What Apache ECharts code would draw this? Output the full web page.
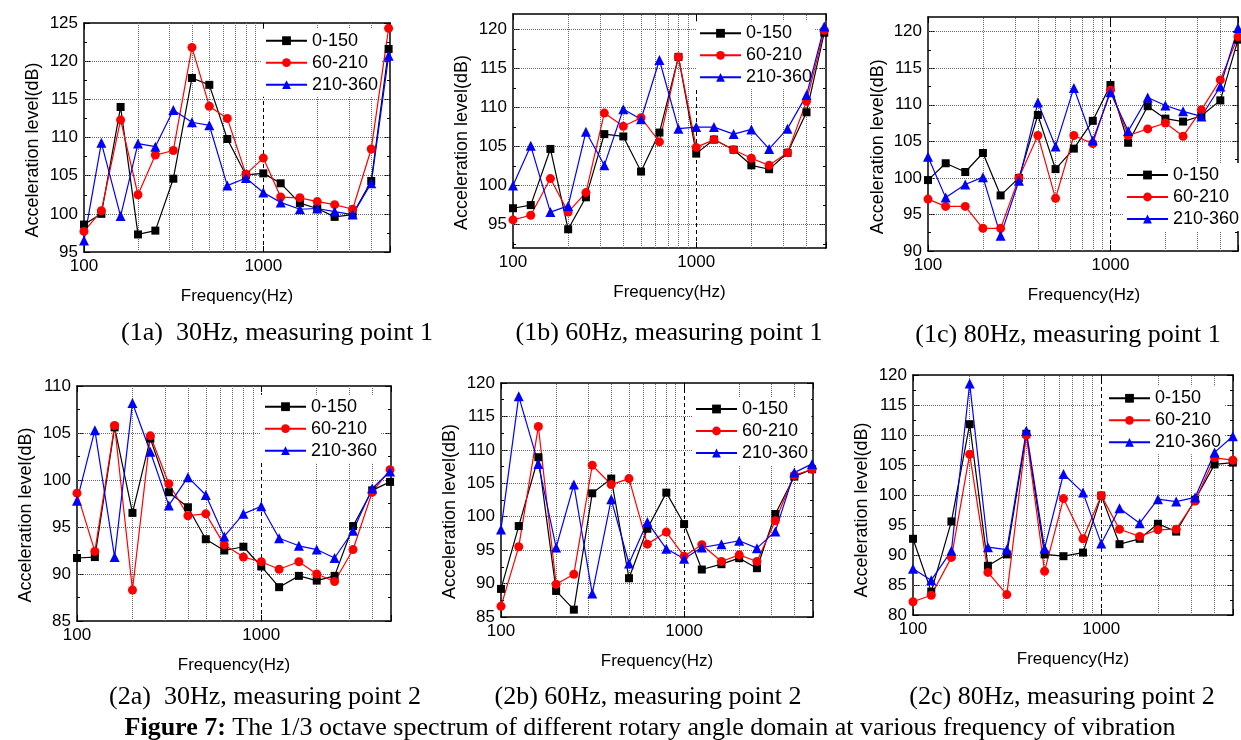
<!DOCTYPE html>
<html><head><meta charset="utf-8">
<script src="https://cdn.jsdelivr.net/npm/echarts@6/dist/echarts.min.js"></script>
<style>html,body{margin:0;padding:0;background:#fff}#c{width:1241px;height:740px}</style>
</head><body><div id="c"></div>
<script>
// ---------- DATA ----------
const freqs = [100,125,160,200,250,315,400,500,630,800,1000,1250,1600,2000,2500,3150,4000,5000];
const seriesNames = ['0-150','60-210','210-360'];
const xTickLabels = [100, 1000];
const xMinorGrid = [200,300,400,500,600,700,800,900,2000,3000,4000];
const xDashedGrid = [1000];

// (1a) 30Hz, measuring point 1
const y1aTicks = [95,100,105,110,115,120,125];
const d1a_k = [98.6,100.0,114.0,97.3,97.8,104.6,117.8,116.9,109.8,105.1,105.3,104.0,101.4,100.7,99.6,99.9,104.3,121.6];
const d1a_r = [97.7,100.4,112.3,102.5,107.7,108.3,121.8,114.1,112.5,105.2,107.3,102.2,102.1,101.6,101.2,100.6,108.5,124.3];
const d1a_b = [96.5,109.3,99.7,109.2,108.8,113.6,112.0,111.6,103.7,104.7,102.8,101.5,100.6,100.7,100.3,99.9,104.0,120.7];

// (1b) 60Hz, measuring point 1
const y1bTicks = [95,100,105,110,115,120];
const d1b_k = [97.1,97.5,104.7,94.4,98.5,106.6,106.3,101.8,106.8,116.5,104.1,105.9,104.6,102.6,102.1,104.2,109.4,119.6];
const d1b_r = [95.6,96.2,100.9,96.6,99.1,109.3,107.6,108.7,105.6,116.5,104.9,105.9,104.6,103.5,102.6,104.2,110.8,119.9];
const d1b_b = [100.0,105.1,96.6,97.4,106.9,102.6,109.8,108.5,116.1,107.3,107.5,107.5,106.6,107.2,104.7,107.3,111.6,120.4];

// (1c) 80Hz, measuring point 1
const y1cTicks = [90,95,100,105,110,115,120];
const d1c_k = [99.7,102.0,100.8,103.4,97.6,100.0,108.6,101.2,104.0,107.8,112.7,104.8,109.8,108.1,107.7,108.5,110.6,118.9];
const d1c_r = [97.1,96.1,96.1,93.1,93.1,100.0,105.8,97.2,105.8,104.7,112.0,105.8,106.7,107.5,105.7,109.3,113.4,119.3];
const d1c_b = [102.9,97.3,99.1,100.1,92.1,99.6,110.3,104.3,112.3,105.1,111.7,106.4,111.0,109.9,109.1,108.4,112.5,120.5];

// (2a) 30Hz, measuring point 2
const y2aTicks = [85,90,95,100,105,110];
const d2a_k = [91.7,91.8,105.6,96.5,104.4,98.7,97.1,93.7,92.5,92.9,90.8,88.6,89.8,89.3,89.8,95.1,98.9,99.8];
const d2a_r = [98.6,92.4,105.8,88.3,104.7,99.6,96.2,96.4,93.1,91.8,91.3,90.5,91.3,90.0,89.2,92.6,98.7,101.1];
const d2a_b = [97.8,105.3,91.8,108.2,103.0,97.3,100.3,98.4,94.0,96.4,97.2,93.8,93.0,92.6,91.7,94.6,99.1,100.9];

// (2b) 60Hz, measuring point 2
const y2bTicks = [85,90,95,100,105,110,115,120];
const d2b_k = [89.2,98.6,108.9,88.9,86.1,103.5,105.7,90.8,98.2,103.6,98.9,92.1,92.9,93.8,92.3,100.4,106.0,107.1];
const d2b_r = [86.6,95.5,113.5,89.9,91.4,107.7,104.8,105.7,95.9,97.7,94.1,95.8,93.3,94.3,93.3,99.4,106.2,107.1];
const d2b_b = [98.1,118.0,107.9,95.4,104.8,88.5,102.6,93.0,99.2,95.2,93.7,95.4,95.9,96.4,95.3,97.8,106.6,107.9];

// (2c) 80Hz, measuring point 2
const y2cTicks = [80,85,90,95,100,105,110,115,120];
const d2c_k = [92.7,83.9,95.6,111.8,88.2,90.1,110.2,90.1,89.8,90.4,99.9,91.8,92.7,95.2,93.9,99.2,105.1,105.4];
const d2c_r = [82.2,83.3,89.6,106.8,87.1,83.4,110.0,87.3,99.4,92.7,99.9,94.3,93.1,94.2,94.3,99.0,106.2,105.8];
const d2c_b = [87.7,85.8,90.7,118.6,91.3,90.9,110.7,91.1,103.5,100.4,91.9,97.8,95.3,99.3,98.9,99.6,107.1,109.8];

const yName = 'Acceleration level(dB)';
const xName = 'Frequency(Hz)';
const figCaptionBold = 'Figure 7:';
const figCaptionText = ' The 1/3 octave spectrum of different rotary angle domain at various frequency of vibration';

// ---------- LAYOUT ----------
const panels = [
  {ticks:y1aTicks, yMin:95, yMax:125, data:[d1a_k,d1a_r,d1a_b], caption:'(1a)  30Hz, measuring point 1',
   grid:{left:84,top:23,width:306,height:229}, xMax:5090, legend:[262,28.7], yNamePos:[33,150], capPos:[277,333]},
  {ticks:y1bTicks, yMin:92, yMax:122, data:[d1b_k,d1b_r,d1b_b], caption:'(1b) 60Hz, measuring point 1',
   grid:{left:513,top:14,width:313,height:234}, xMax:5110, legend:[696,21.3], yNamePos:[462,142.5], capPos:[669,333]},
  {ticks:y1cTicks, yMin:90, yMax:122, data:[d1c_k,d1c_r,d1c_b], caption:'(1c) 80Hz, measuring point 1',
   grid:{left:928,top:17,width:312,height:234}, xMax:5000, legend:[1123,163], yNamePos:[878,146.7], capPos:[1068,335]},
  {ticks:y2aTicks, yMin:85, yMax:110, data:[d2a_k,d2a_r,d2a_b], caption:'(2a)  30Hz, measuring point 2',
   grid:{left:77,top:386,width:314,height:235}, xMax:5060, legend:[261,394.7], yNamePos:[26,515], capPos:[265,697]},
  {ticks:y2bTicks, yMin:85, yMax:120, data:[d2b_k,d2b_r,d2b_b], caption:'(2b) 60Hz, measuring point 2',
   grid:{left:501,top:383,width:312,height:234}, xMax:5060, legend:[692,397], yNamePos:[450,511.5], capPos:[648,697]},
  {ticks:y2cTicks, yMin:80, yMax:120, data:[d2c_k,d2c_r,d2c_b], caption:'(2c) 80Hz, measuring point 2',
   grid:{left:913,top:375,width:320,height:240}, xMax:5010, legend:[1105,386.3], yNamePos:[862,510], capPos:[1062,697]}
];

const styles = [
  {color:'#000000', symbol:'rect', size:8},
  {color:'#ff0000', symbol:'circle', size:9},
  {color:'#0000ff', symbol:'triangle', size:10}
];

const SANS = 'Arial, "Liberation Sans", Helvetica, sans-serif';
const SERIF = '"Times New Roman", "Liberation Serif", serif';
const axisLineStyle = {color:'#000', width:1.5};

const grids = [], xAxes = [], yAxes = [], series = [], legends = [], graphics = [];

panels.forEach((p, i) => {
  grids.push(Object.assign({containLabel:false}, p.grid));
  const minor = [];
  for (let k = 0; k < p.ticks.length - 1; k++) minor.push((p.ticks[k] + p.ticks[k+1]) / 2);
  if (p.ticks[0] - 2.5 > p.yMin) minor.unshift(p.ticks[0] - 2.5);
  const last = p.ticks[p.ticks.length-1];
  if (last + 2.5 < p.yMax) minor.push(last + 2.5);

  const xBase = {
    type:'log', logBase:10, gridIndex:i, min:100, max:p.xMax,
    axisLine:{show:true, onZero:false, lineStyle:axisLineStyle},
    axisTick:{show:true, inside:true, length:6, lineStyle:{color:'#000', width:1}},
    splitLine:{show:false}, minorTick:{show:false}, minorSplitLine:{show:false}
  };
  xAxes.push(Object.assign({}, xBase, {position:'bottom',
    axisLabel:{show:true, color:'#000', fontSize:17, fontFamily:SANS, margin:6,
      formatter: v => xTickLabels.some(t => Math.abs(t - v) < 1e-6) ? String(Math.round(v)) : ''}}));
  xAxes.push(Object.assign({}, xBase, {position:'top', axisLabel:{show:false}}));

  const yBase = {type:'value', gridIndex:i, min:p.yMin, max:p.yMax, splitLine:{show:false}, minorTick:{show:false}};
  yAxes.push(Object.assign({}, yBase, {position:'left',
    axisLine:{show:true, onZero:false, lineStyle:axisLineStyle},
    axisTick:{show:true, inside:true, length:6, customValues:p.ticks, lineStyle:{color:'#000'}},
    axisLabel:{show:true, customValues:p.ticks, color:'#000', fontSize:17, fontFamily:SANS, margin:6}}));
  yAxes.push(Object.assign({}, yBase, {position:'right',
    axisLine:{show:true, onZero:false, lineStyle:axisLineStyle},
    axisTick:{show:true, inside:true, length:6, customValues:p.ticks, lineStyle:{color:'#000'}},
    axisLabel:{show:false}}));
  yAxes.push(Object.assign({}, yBase, {position:'left',
    axisLine:{show:false}, axisLabel:{show:false},
    axisTick:{show:true, inside:true, length:3, customValues:minor, lineStyle:{color:'#000'}}}));
  yAxes.push(Object.assign({}, yBase, {position:'right',
    axisLine:{show:false}, axisLabel:{show:false},
    axisTick:{show:true, inside:true, length:3, customValues:minor, lineStyle:{color:'#000'}}}));

  const gridLineData = [];
  xMinorGrid.forEach(v => gridLineData.push({xAxis:v, lineStyle:{color:'#666', type:'dotted', width:1}}));
  xDashedGrid.forEach(v => gridLineData.push({xAxis:v, lineStyle:{color:'#000', type:[4,3], width:1}}));
  p.ticks.forEach(v => { if (v > p.yMin && v < p.yMax)
    gridLineData.push({yAxis:v, lineStyle:{color:'#666', type:'dotted', width:1}}); });

  series.push({type:'line', name:'grid'+i, xAxisIndex:2*i, yAxisIndex:4*i, data:[], silent:true, z:1,
    markLine:{symbol:['none','none'], silent:true, animation:false, label:{show:false}, z:1, data:gridLineData}});

  seriesNames.forEach((nm, s) => {
    const st = styles[s];
    series.push({type:'line', name:nm, xAxisIndex:2*i, yAxisIndex:4*i, z:3,
      data: freqs.map((f, k) => [f, p.data[s][k]]),
      symbol:st.symbol, symbolSize:st.size, showAllSymbol:true, clip:false,
      itemStyle:{color:st.color}, lineStyle:{color:st.color, width:1.2},
      emphasis:{disabled:true}, animation:false});
  });

  legends.push({orient:'vertical', left:p.legend[0], top:p.legend[1], data:seriesNames,
    itemWidth:41, itemHeight:11, itemGap:4, padding:3, backgroundColor:'#fff', z:2,
    selectedMode:false, textStyle:{color:'#000', fontSize:18, fontFamily:SANS}});

  const g = p.grid;
  graphics.push({type:'text', x:p.yNamePos[0], y:p.yNamePos[1], rotation:Math.PI/2, silent:true,
    style:{text:yName, font:'18px ' + SANS, fill:'#000', textAlign:'center', textVerticalAlign:'middle'}});
  graphics.push({type:'text', x:g.left + g.width/2, y:g.top + g.height + 44.5, silent:true,
    style:{text:xName, font:'17px ' + SANS, fill:'#000', textAlign:'center', textVerticalAlign:'middle'}});
  graphics.push({type:'text', x:p.capPos[0], y:p.capPos[1], silent:true,
    style:{text:p.caption, font:'26px ' + SERIF, fill:'#000', textAlign:'center', textVerticalAlign:'middle'}});
});

graphics.push({type:'text', x:650, y:728, silent:true,
  style:{text:'{b|' + figCaptionBold + '}' + figCaptionText, font:'26px ' + SERIF, fill:'#000',
    textAlign:'center', textVerticalAlign:'middle',
    rich:{b:{fontWeight:'bold', fontSize:26, fontFamily:SERIF, fill:'#000'}}}});

const chart = echarts.init(document.getElementById('c'), null, {renderer:'canvas'});
chart.setOption({
  animation:false, backgroundColor:'#fff',
  grid:grids, xAxis:xAxes, yAxis:yAxes, series:series, legend:legends, graphic:graphics
});
</script></body></html>
